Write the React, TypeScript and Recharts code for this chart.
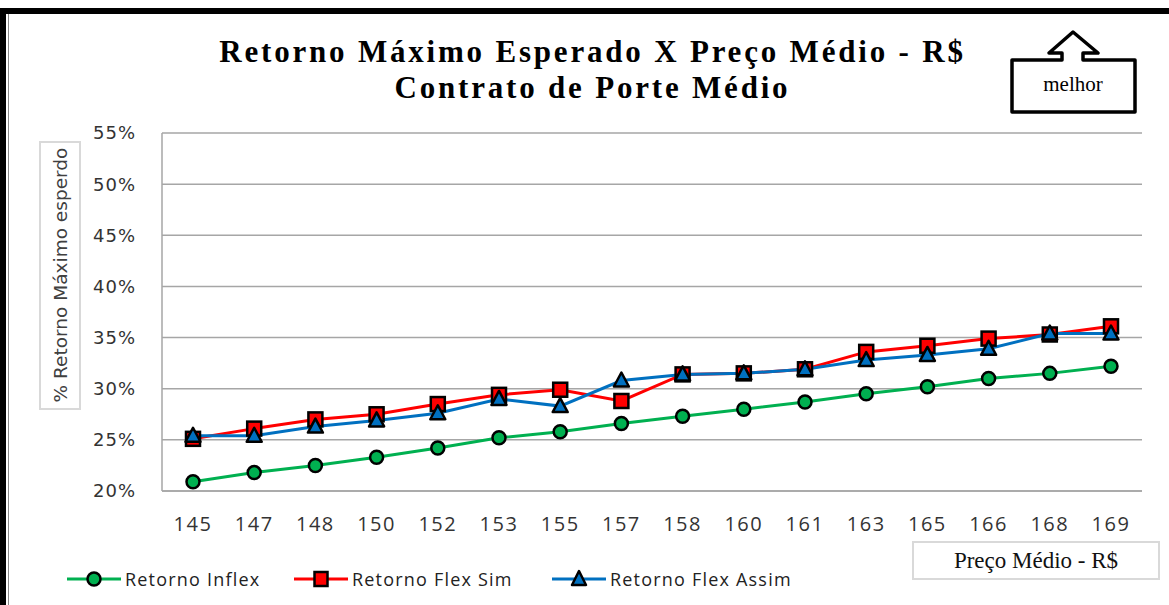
import { LineChart, Line, XAxis, YAxis, CartesianGrid } from 'recharts'

const precos = ['145', '147', '148', '150', '152', '153', '155', '157', '158', '160', '161', '163', '165', '166', '168', '169']
const retornoInflex = [20.9, 21.8, 22.5, 23.3, 24.2, 25.2, 25.8, 26.6, 27.3, 28.0, 28.7, 29.5, 30.2, 31.0, 31.5, 32.2]
const retornoFlexSim = [25.1, 26.1, 27.0, 27.5, 28.5, 29.4, 29.9, 28.8, 31.4, 31.5, 31.9, 33.6, 34.2, 34.9, 35.3, 36.1]
const retornoFlexAssim = [25.4, 25.4, 26.3, 26.9, 27.6, 29.0, 28.3, 30.8, 31.4, 31.5, 31.9, 32.8, 33.3, 33.9, 35.4, 35.4]
const yTicks = [20, 25, 30, 35, 40, 45, 50, 55]

const GREEN = '#00B050'
const RED = '#FF0000'
const BLUE = '#0070C0'
const SANS = '"Open Sans", sans-serif'
const SERIF = '"Liberation Serif", serif'

const data = precos.map((p, i) => ({
  preco: p,
  inflex: retornoInflex[i],
  flexSim: retornoFlexSim[i],
  flexAssim: retornoFlexAssim[i],
}))

const circleDot = (props: any) => {
  const { cx, cy, index } = props
  if (cx == null || cy == null) return <g key={`c-${index}`} />
  return <circle key={`c-${index}`} cx={cx} cy={cy} r={6.5} fill={GREEN} stroke="#000" strokeWidth={2.5} />
}

const squareDot = (props: any) => {
  const { cx, cy, index } = props
  if (cx == null || cy == null) return <g key={`s-${index}`} />
  return <rect key={`s-${index}`} x={cx - 7} y={cy - 7} width={14} height={14} fill={RED} stroke="#000" strokeWidth={2.5} />
}

const triangleDot = (props: any) => {
  const { cx, cy, index } = props
  if (cx == null || cy == null) return <g key={`t-${index}`} />
  return (
    <polygon
      key={`t-${index}`}
      points={`${cx},${cy - 8} ${cx + 7.5},${cy + 6} ${cx - 7.5},${cy + 6}`}
      fill={BLUE}
      stroke="#000"
      strokeWidth={2.5}
      strokeLinejoin="round"
    />
  )
}

function LegendItem({ color, marker, label, left }: { color: string; marker: 'circle' | 'square' | 'triangle'; label: string; left: number }) {
  return (
    <div style={{ position: 'absolute', left, top: 567, height: 24, display: 'flex', alignItems: 'center' }}>
      <svg width={54} height={24}>
        <line x1={0} y1={12} x2={54} y2={12} stroke={color} strokeWidth={3} />
        {marker === 'circle' && <circle cx={27} cy={12} r={6.5} fill={color} stroke="#000" strokeWidth={2.5} />}
        {marker === 'square' && <rect x={20.5} y={5} width={13} height={14} fill={color} stroke="#000" strokeWidth={2.5} />}
        {marker === 'triangle' && (
          <polygon points="27,4 34,18 20,18" fill={color} stroke="#000" strokeWidth={2.5} strokeLinejoin="round" />
        )}
      </svg>
      <span style={{ fontFamily: SANS, fontSize: 18, letterSpacing: 1.2, color: '#222', marginLeft: 4 }}>{label}</span>
    </div>
  )
}

export default function App() {
  return (
    <div style={{ position: 'absolute', left: 0, top: 0, width: 1169, height: 605, background: '#fff', overflow: 'hidden' }}>
      {/* moldura */}
      <div style={{ position: 'absolute', left: 0, top: 8, width: 1169, height: 597, borderTop: '6px solid #000', borderLeft: '6px solid #000', boxSizing: 'border-box' }} />
      <div style={{ position: 'absolute', left: 8, top: 14, width: 1, height: 591, background: '#888' }} />

      {/* título */}
      <div
        style={{
          position: 'absolute', left: 0, top: 34, width: 1185, textAlign: 'center',
          fontFamily: SERIF, fontWeight: 'bold', fontSize: 31, lineHeight: '36px', letterSpacing: 2.8, color: '#000',
        }}
      >
        Retorno Máximo Esperado X Preço Médio - R$
        <br />
        Contrato de Porte Médio
      </div>

      {/* caixa melhor */}
      <svg style={{ position: 'absolute', left: 0, top: 0 }} width={1169} height={130}>
        <path
          d="M1012 60 L1062 60 L1062 53 L1049 53 L1073 32 L1098 53 L1083 53 L1083 60 L1135 60 L1135 112 L1012 112 Z"
          fill="#fff"
          stroke="#000"
          strokeWidth={3.5}
          strokeLinejoin="round"
        />
        <text x={1073} y={91} textAnchor="middle" fontFamily={SERIF} fontSize={21} fill="#000">
          melhor
        </text>
      </svg>

      {/* rótulo eixo Y */}
      <div
        style={{
          position: 'absolute', left: 39, top: 141, width: 42, height: 269,
          border: '2px solid #d9d9d9', boxSizing: 'border-box',
        }}
      />
      <svg style={{ position: 'absolute', left: 0, top: 0 }} width={120} height={420}>
        <text
          x={60}
          y={275}
          transform="rotate(-90 60 275)"
          textAnchor="middle"
          dominantBaseline="central"
          fontFamily='"DejaVu Sans", sans-serif'
          fontSize={18.5}
          fill="#404040"
        >
          % Retorno Máximo esperdo
        </text>
      </svg>

      <div style={{ position: 'absolute', left: 0, top: 0 }}>
        <LineChart width={1169} height={605} data={data} margin={{ top: 133, right: 27, left: 102, bottom: 74 }}>
          <CartesianGrid vertical={false} stroke="#a6a6a6" strokeWidth={1.5} />
          <XAxis
            dataKey="preco"
            interval={0}
            height={40}
            padding={{ left: 31, right: 31 }}
            tickLine={false}
            tickSize={0}
            tickMargin={26}
            axisLine={{ stroke: '#a6a6a6', strokeWidth: 1.5 }}
            tick={{ fill: '#333', fontSize: 20, fontFamily: SANS, letterSpacing: 1.5 }}
          />
          <YAxis
            domain={[20, 55]}
            ticks={yTicks}
            interval={0}
            width={60}
            tickLine={false}
            tickSize={0}
            tickMargin={26}
            axisLine={{ stroke: '#a6a6a6', strokeWidth: 1.5 }}
            tick={{ fill: '#333', fontSize: 18, fontFamily: '"DejaVu Sans", sans-serif', letterSpacing: 1 }}
            tickFormatter={(v: number) => `${v}%`}
          />
          <Line dataKey="inflex" stroke={GREEN} strokeWidth={3} dot={circleDot} isAnimationActive={false} />
          <Line dataKey="flexSim" stroke={RED} strokeWidth={3} dot={squareDot} isAnimationActive={false} />
          <Line dataKey="flexAssim" stroke={BLUE} strokeWidth={3} dot={triangleDot} isAnimationActive={false} />
        </LineChart>
      </div>

      {/* título eixo X */}
      <div
        style={{
          position: 'absolute', left: 912, top: 541, width: 248, height: 39,
          border: '2px solid #d9d9d9', boxSizing: 'border-box', background: '#fff',
          display: 'flex', alignItems: 'center', justifyContent: 'center',
          fontFamily: SERIF, fontSize: 23, color: '#111',
        }}
      >
        Preço Médio - R$
      </div>

      {/* legenda */}
      <LegendItem color={GREEN} marker="circle" label="Retorno Inflex" left={67} />
      <LegendItem color={RED} marker="square" label="Retorno Flex Sim" left={294} />
      <LegendItem color={BLUE} marker="triangle" label="Retorno Flex Assim" left={552} />
    </div>
  )
}
